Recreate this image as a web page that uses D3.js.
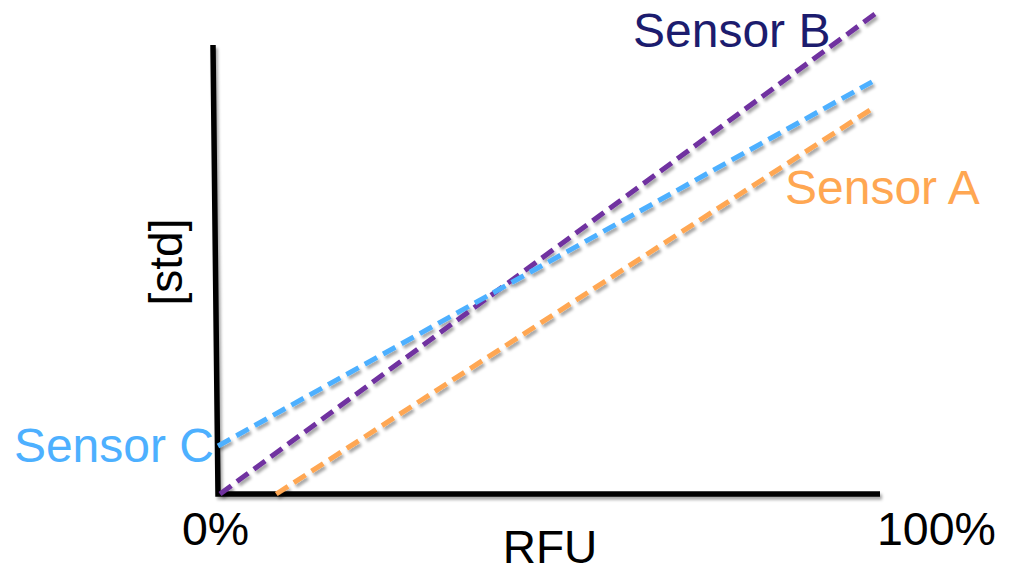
<!DOCTYPE html>
<html>
<head>
<meta charset="utf-8">
<script src="https://cdn.jsdelivr.net/npm/d3@7"></script>
<style>
  html, body { margin: 0; padding: 0; background: #fff; }
  svg { display: block; font-family: Arial, "Liberation Sans", sans-serif; }
</style>
</head>
<body>
<svg id="chart" width="1020" height="573"></svg>
<script>
// Calibration lines: RFU (%) against standard concentration (relative units)
const sensors = ["Sensor A", "Sensor B", "Sensor C"];
const startPoints = [[8.8, 0], [0.3, 0], [0, 10.7]];
const endPoints = [[99.2, 86.2], [99.4, 107.1], [98.8, 91.8]];
const lineColors = ["#FFA752", "#7030A0", "#4DB0FF"];
const labelColors = ["#FFA752", "#1C1C6E", "#4DB0FF"];
const xTickLabels = ["0%", "100%"];
const xTickValues = [0, 100];

const svg = d3.select("#chart");
const x = d3.scaleLinear().domain([0, 100]).range([218, 880]);
const y = d3.scaleLinear().domain([0, 100]).range([494, 45]);

const defs = svg.append("defs");
const f = defs.append("filter").attr("id", "shadow")
  .attr("x", "-10%").attr("y", "-10%").attr("width", "130%").attr("height", "130%");
f.append("feDropShadow").attr("dx", 2).attr("dy", 3).attr("stdDeviation", 1.6)
  .attr("flood-color", "#000").attr("flood-opacity", 0.35);

// axes
const axes = svg.append("g").attr("filter", "url(#shadow)")
  .attr("stroke", "#000").attr("stroke-width", 5.5).attr("fill", "none");
axes.append("path")
  .attr("d", `M${x(0) - 5},${y(100)} L${x(0)},${y(0)} L${x(100)},${y(0)}`)
  .attr("stroke-linejoin", "miter");

// sensor lines
const lineData = sensors.map((s, i) => ({ name: s, pts: [startPoints[i], endPoints[i]], color: lineColors[i] }));
const line = d3.line().x(d => x(d[0])).y(d => y(d[1]));
svg.append("g").attr("filter", "url(#shadow)")
  .selectAll("path").data(lineData).join("path")
  .attr("d", d => line(d.pts))
  .attr("stroke", d => d.color)
  .attr("stroke-width", 5)
  .attr("stroke-dasharray", "14,7")
  .attr("fill", "none");

// x tick labels
svg.selectAll("text.tick").data(xTickValues).join("text")
  .attr("class", "tick")
  .attr("x", (d, i) => i === 0 ? x(d) - 36 : x(d) - 3)
  .attr("y", 545)
  .attr("font-size", 46.5)
  .attr("fill", "#000")
  .text((d, i) => xTickLabels[i]);

// axis titles
svg.append("text").attr("x", 550).attr("y", 563)
  .attr("text-anchor", "middle").attr("font-size", 46).attr("fill", "#000").text("RFU");
svg.append("text")
  .attr("transform", `translate(182,262) rotate(-90)`)
  .attr("text-anchor", "middle").attr("font-size", 46).attr("fill", "#000").text("[std]");

// series labels
const labelPos = [[785, 204, "start"], [633, 47, "start"], [214, 462, "end"]];
svg.selectAll("text.series").data(sensors).join("text")
  .attr("class", "series")
  .attr("x", (d, i) => labelPos[i][0])
  .attr("y", (d, i) => labelPos[i][1])
  .attr("text-anchor", (d, i) => labelPos[i][2])
  .attr("font-size", 48)
  .attr("fill", (d, i) => labelColors[i])
  .text(d => d);
</script>
</body>
</html>
